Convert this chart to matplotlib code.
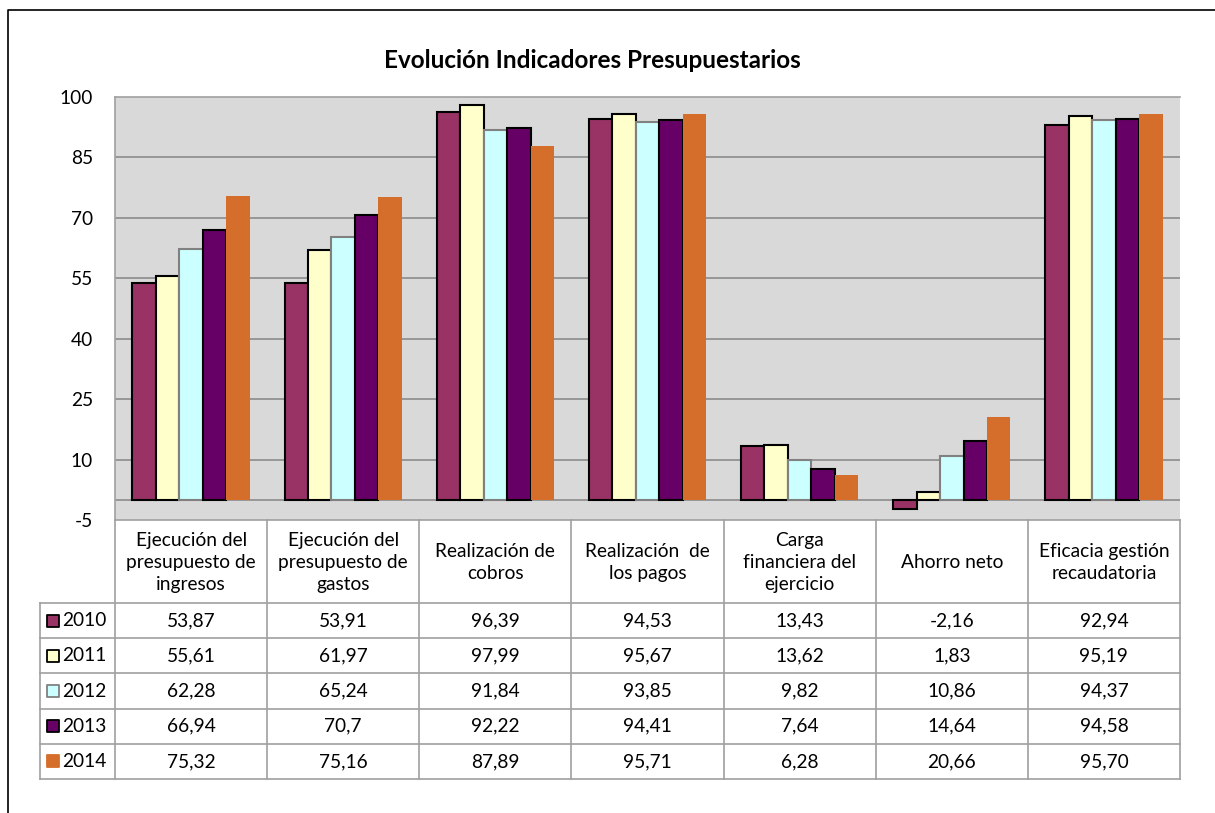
import matplotlib.pyplot as plt

categories = ["Ejecución del\npresupuesto de\ningresos", "Ejecución del\npresupuesto de\ngastos",
              "Realización de\ncobros", "Realización  de\nlos pagos", "Carga\nfinanciera del\nejercicio",
              "Ahorro neto", "Eficacia gestión\nrecaudatoria"]
years = ["2010", "2011", "2012", "2013", "2014"]
v2010 = ["53,87", "53,91", "96,39", "94,53", "13,43", "-2,16", "92,94"]
v2011 = ["55,61", "61,97", "97,99", "95,67", "13,62", "1,83", "95,19"]
v2012 = ["62,28", "65,24", "91,84", "93,85", "9,82", "10,86", "94,37"]
v2013 = ["66,94", "70,7", "92,22", "94,41", "7,64", "14,64", "94,58"]
v2014 = ["75,32", "75,16", "87,89", "95,71", "6,28", "20,66", "95,70"]
yticks = [-5, 10, 25, 40, 55, 70, 85, 100]

series = [v2010, v2011, v2012, v2013, v2014]
colors = ["#993366", "#FFFFCC", "#CCFFFF", "#660066", "#D46E2A"]
edges = ["black", "black", "#808080", "black", "none"]

plt.rcParams['font.family'] = ['Lato', 'DejaVu Sans']
W, H = 1215, 813
fs = 13.8
fig = plt.figure(figsize=(W / 100, H / 100), dpi=100)

# pixel layout
px0, px1, py0, py1 = 115, 1180, 97, 520
ax = fig.add_axes([px0 / W, 1 - py1 / H, (px1 - px0) / W, (py1 - py0) / H])
ax.set_facecolor("#D9D9D9")
ax.set_xlim(-0.5, len(categories) - 0.5)
ax.set_ylim(-5, 100)
for y in yticks[1:-1]:
    ax.axhline(y, color="#8C8C8C", lw=1.2, zorder=1)
ax.axhline(0, color="#8C8C8C", lw=1.2, zorder=1)

bw = 0.154
for j, (vals, c, e) in enumerate(zip(series, colors, edges)):
    nums = [float(s.replace(",", ".")) for s in vals]
    xs = [i + (j - 2) * bw for i in range(len(categories))]
    ax.bar(xs, nums, width=bw, color=c, edgecolor=e, linewidth=1.5, zorder=3)

ax.set_xticks([])
ax.set_yticks(yticks)
ax.set_yticklabels([str(t) for t in yticks], fontsize=fs)
ax.tick_params(axis='y', length=0, pad=16)
for s in ["right", "bottom"]:
    ax.spines[s].set_visible(False)
for s in ["top", "left"]:
    ax.spines[s].set_color("#A0A0A0")
    ax.spines[s].set_linewidth(1.2)

# overlay for frame, title, data table
ov = fig.add_axes([0, 0, 1, 1], zorder=5)
ov.set_xlim(0, W)
ov.set_ylim(H, 0)
ov.axis('off')
ov.plot([8, 8, W], [H, 10, 10], color="black", lw=1.2)
ov.text(592, 61, "Evolución Indicadores Presupuestarios", ha="center", va="center",
        fontsize=17.5, fontweight="bold")

gc = "#A0A0A0"
cw = (px1 - px0) / len(categories)
head_bot = 603
rh = 35.2
rows_y = [head_bot + k * rh for k in range(len(years) + 1)]
# horizontal lines
ov.plot([px0, px1], [py1, py1], color=gc, lw=1.2)
for y in rows_y:
    ov.plot([40, px1], [y, y], color=gc, lw=1.2)
# vertical lines
for i in range(len(categories) + 1):
    ov.plot([px0 + i * cw] * 2, [py1, rows_y[-1]], color=gc, lw=1.2)
ov.plot([40, 40], [head_bot, rows_y[-1]], color=gc, lw=1.2)

for i, cat in enumerate(categories):
    ov.text(px0 + (i + 0.5) * cw, (py1 + head_bot) / 2 + 1, cat, ha="center", va="center",
            fontsize=fs, linespacing=1.38)

for k, (yr, vals, c, e) in enumerate(zip(years, series, colors, edges)):
    yc = rows_y[k] + rh / 2
    ov.scatter([53], [yc], marker="s", s=85, color=c,
               edgecolors=e if e != "none" else c, linewidths=1.3)
    ov.text(62, yc, yr, ha="left", va="center", fontsize=fs)
    for i, v in enumerate(vals):
        ov.text(px0 + (i + 0.5) * cw, yc, v, ha="center", va="center", fontsize=fs)

fig.savefig("out.png", dpi=100)
